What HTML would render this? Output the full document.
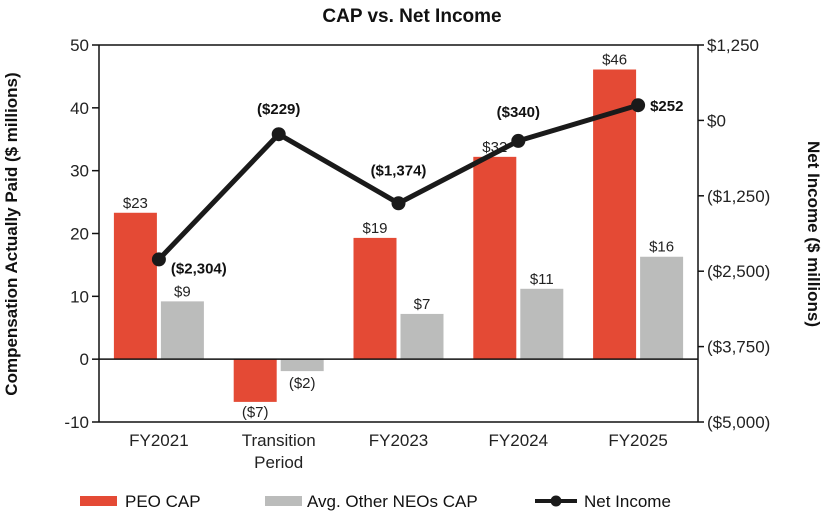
<!DOCTYPE html>
<html><head><meta charset="utf-8"><style>
body{margin:0;background:#fff;}
svg{display:block;font-family:"Liberation Sans",sans-serif;}
</style></head><body>
<svg id="chart" width="824" height="512">
<text x="412" y="22" text-anchor="middle" font-size="19" font-weight="bold" fill="#111">CAP vs. Net Income</text>
<g id="plot"></g>
<text transform="translate(17,234) rotate(-90)" text-anchor="middle" font-size="17" font-weight="bold" fill="#111">Compensation Actually Paid ($ millions)</text>
<text transform="translate(808,234) rotate(90)" text-anchor="middle" font-size="17" font-weight="bold" fill="#111">Net Income ($ millions)</text>
<g>
<g><rect x="80" y="496" width="37" height="10" fill="#e44a35"/><text x="125" y="507" font-size="17" fill="#111">PEO CAP</text></g>
<g><rect x="265" y="496" width="37" height="10" fill="#bbbcbb"/><text x="307" y="507" font-size="17" fill="#111">Avg. Other NEOs CAP</text></g>
<g><line x1="535" y1="501" x2="577" y2="501" stroke="#1a1a1a" stroke-width="4"/><circle cx="556" cy="501" r="5.5" fill="#1a1a1a"/><text x="584" y="507" font-size="17" fill="#111">Net Income</text></g>
</g>
</svg>
<script>
const categories=[["FY2021"],["Transition","Period"],["FY2023"],["FY2024"],["FY2025"]];
const peoCap=[23.3,-6.8,19.3,32.2,46.1];
const neoCap=[9.2,-1.9,7.2,11.2,16.3];
const peoLabels=["$23","($7)","$19","$32","$46"];
const neoLabels=["$9","($2)","$7","$11","$16"];
const netIncome=[-2304,-229,-1374,-340,252];
const niLabels=["($2,304)","($229)","($1,374)","($340)","$252"];
const leftTicks=[50,40,30,20,10,0,-10];
const rightTicks=[1250,0,-1250,-2500,-3750,-5000];
const rightTickLabels=["$1,250","$0","($1,250)","($2,500)","($3,750)","($5,000)"];

const NS="http://www.w3.org/2000/svg";
const g=document.getElementById('plot');
const X0=99,X1=698,YT=45,YB=422;
const yL=v=>YT+(50-v)/60*(YB-YT);
const yR=v=>YT+(1250-v)/6250*(YB-YT);
const cx=i=>X0+(i+0.5)*(X1-X0)/categories.length;
function mk(tag,attrs,text){const e=document.createElementNS(NS,tag);for(const k in attrs)e.setAttribute(k,attrs[k]);if(text!=null)e.textContent=text;g.appendChild(e);return e;}

peoCap.forEach((v,i)=>{
 const y0=yL(0),y1=yL(v);
 const r=mk('rect',{x:cx(i)-45,y:Math.min(y0,y1),width:43,height:Math.abs(y1-y0),fill:'#e44a35'});
 
 
 const t=mk('text',{x:cx(i)-23.5,y:v>=0?y1-5:y1+15,'text-anchor':'middle','font-size':15,fill:'#222','font-family':'"Liberation Sans Narrow","Liberation Sans",sans-serif'},peoLabels[i]);
 
 
});
neoCap.forEach((v,i)=>{
 const y0=yL(0),y1=yL(v);
 const r=mk('rect',{x:cx(i)+2,y:Math.min(y0,y1),width:43,height:Math.abs(y1-y0),fill:'#bbbcbb'});
 
 
 const t=mk('text',{x:cx(i)+23.5,y:v>=0?y1-5:y1+17,'text-anchor':'middle','font-size':15,fill:'#222','font-family':'"Liberation Sans Narrow","Liberation Sans",sans-serif'},neoLabels[i]);
 
 
});
let a=mk('line',{x1:X0,y1:YT,x2:X1,y2:YT,stroke:'#111','stroke-width':1.5});
a=mk('line',{x1:X0,y1:YB,x2:X1,y2:YB,stroke:'#111','stroke-width':1.5});
a=mk('line',{x1:X0,y1:yL(0),x2:X1,y2:yL(0),stroke:'#111','stroke-width':1.5});
a=mk('line',{x1:X0,y1:YT,x2:X0,y2:YB,stroke:'#111','stroke-width':1.5});
a=mk('line',{x1:X1,y1:YT,x2:X1,y2:YB,stroke:'#111','stroke-width':1.5});
leftTicks.forEach(v=>{
 const tk=mk('line',{x1:X0-7,y1:yL(v),x2:X0,y2:yL(v),stroke:'#111','stroke-width':1.5});
 
 
 const t=mk('text',{x:X0-10,y:yL(v)+6,'text-anchor':'end','font-size':17,fill:'#222'},String(v));
 
 
});
rightTicks.forEach((v,i)=>{
 const tk=mk('line',{x1:X1,y1:yR(v),x2:X1+6,y2:yR(v),stroke:'#111','stroke-width':1.5});
 
 
 const t=mk('text',{x:X1+9,y:yR(v)+6,'font-size':17,fill:'#222'},rightTickLabels[i]);
 
 
});
categories.forEach((c,i)=>{
 c.forEach((line,j)=>{
  const t=mk('text',{x:cx(i),y:446+j*22,'text-anchor':'middle','font-size':17,fill:'#222'},line);
  
  
 });
});
const pts=netIncome.map((v,i)=>cx(i)+','+yR(v)).join(' ');
const pl=mk('polyline',{points:pts,fill:'none',stroke:'#1a1a1a','stroke-width':5,'stroke-linejoin':'round'});


const niOff=[[12,14,'start'],[0,-20,'middle'],[0,-28,'middle'],[0,-24,'middle'],[12,6,'start']];
netIncome.forEach((v,i)=>{
 const c=mk('circle',{cx:cx(i),cy:yR(v),r:7,fill:'#1a1a1a'});
 
 
 const o=niOff[i];
 const t=mk('text',{x:cx(i)+o[0],y:yR(v)+o[1],'text-anchor':o[2],'font-size':15,'font-weight':'bold',fill:'#111','font-family':'"Liberation Sans Narrow","Liberation Sans",sans-serif'},niLabels[i]);
 
 
});
</script>
</body></html>
